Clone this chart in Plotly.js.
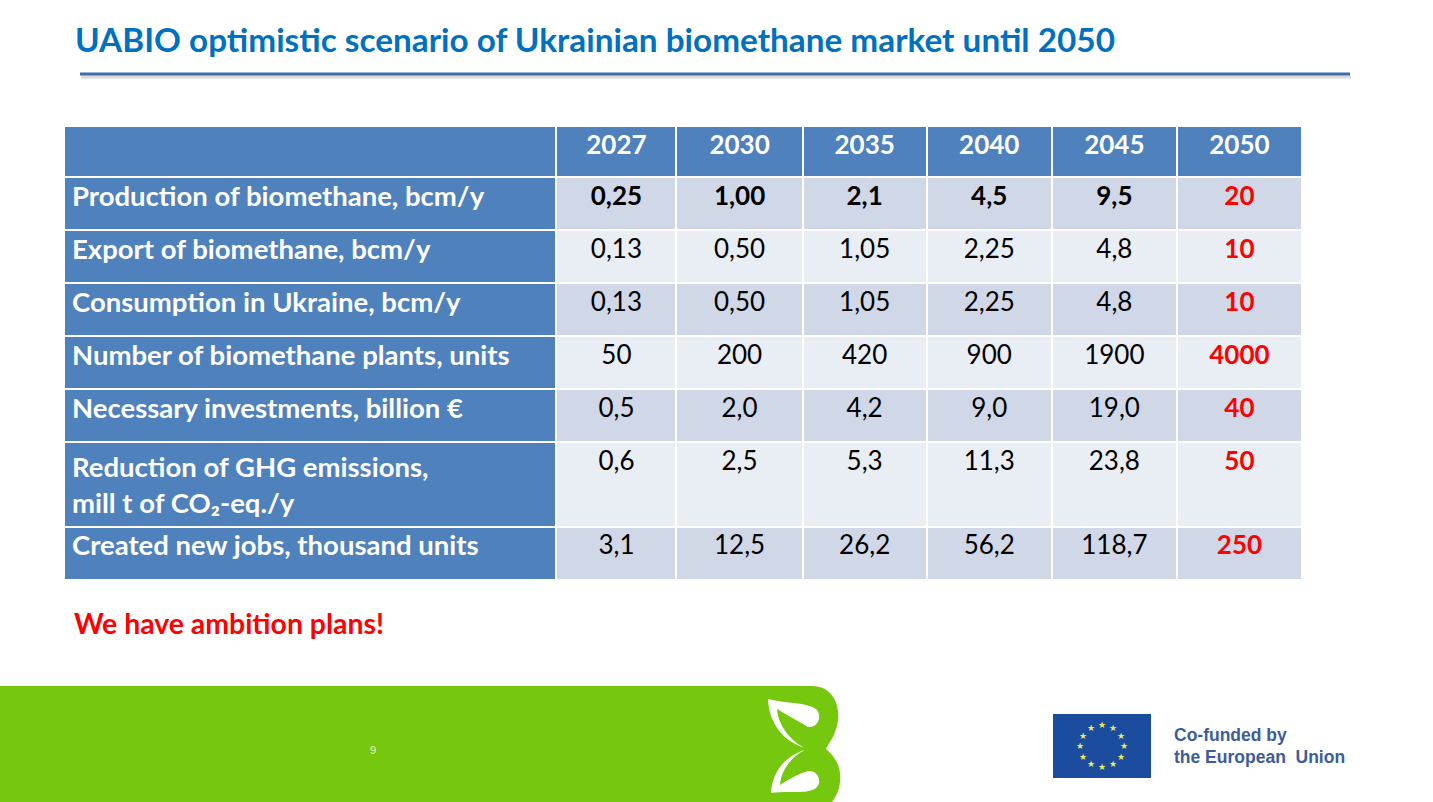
<!DOCTYPE html>
<html>
<head>
<meta charset="utf-8">
<script src="https://cdn.plot.ly/plotly-3.0.1.min.js"></script>
<style>html,body{margin:0;padding:0;background:#fff;}#chart{width:1433px;height:802px;}</style>
</head>
<body>
<div id="chart"></div>
<script>
// ---- data ----
const years = ['2027', '2030', '2035', '2040', '2045', '2050'];
const rowLabels = [
  'Production of biomethane, bcm/y',
  'Export of biomethane, bcm/y',
  'Consumption in Ukraine, bcm/y',
  'Number of biomethane plants, units',
  'Necessary investments, billion €',
  'Reduction of GHG emissions,<br>mill t of CO₂-eq./y',
  'Created new jobs, thousand units'
];
const production   = ['0,25', '1,00', '2,1', '4,5', '9,5', '20'];
const exportBio    = ['0,13', '0,50', '1,05', '2,25', '4,8', '10'];
const consumption  = ['0,13', '0,50', '1,05', '2,25', '4,8', '10'];
const plants       = ['50', '200', '420', '900', '1900', '4000'];
const investments  = ['0,5', '2,0', '4,2', '9,0', '19,0', '40'];
const ghgReduction = ['0,6', '2,5', '5,3', '11,3', '23,8', '50'];
const newJobs      = ['3,1', '12,5', '26,2', '56,2', '118,7', '250'];
const rows = [production, exportBio, consumption, plants, investments, ghgReduction, newJobs];

// ---- helpers (pixel -> paper) ----
const W = 1433, H = 802;
const px = x => x / W;
const py = y => 1 - y / H;
const P = (x, y) => px(x) + ' ' + py(y);

// ---- table construction ----
const headerValues = [''].concat(years);
const cellValues = [rowLabels];
const fontColors = [rowLabels.map(() => '#FFFFFF')];
const fontWeights = [rowLabels.map(() => 'bold')];
const fontSizes = [rowLabels.map(() => 27.5)];
const fillColors = [rowLabels.map(() => '#4F81BD')];
years.forEach((y, ci) => {
  const isLast = ci === years.length - 1;
  cellValues.push(rows.map(r => r[ci]));
  fontColors.push(rows.map(() => isLast ? '#FF0000' : '#000000'));
  fontWeights.push(rows.map((r, ri) => (isLast || ri === 0) ? 'bold' : 'normal'));
  fontSizes.push(rows.map(() => 26));
  fillColors.push(rows.map((r, ri) => ri % 2 === 0 ? '#D0D8E8' : '#E9EDF4'));
});

const table = {
  type: 'table',
  domain: {x: [px(64), px(1302)], y: [py(660), py(126)]},
  columnwidth: [492, 120, 126, 124, 125, 125, 125],
  header: {
    values: headerValues,
    height: 51,
    align: 'center',
    fill: {color: '#4F81BD'},
    line: {color: '#FFFFFF', width: 2},
    font: {family: 'Lato, sans-serif', size: 26, color: '#FFFFFF', weight: 'bold'}
  },
  cells: {
    values: cellValues,
    height: 53,
    align: ['left', 'center', 'center', 'center', 'center', 'center', 'center'],
    fill: {color: fillColors},
    line: {color: '#FFFFFF', width: 2},
    font: {family: 'Lato, sans-serif', size: fontSizes, color: fontColors, weight: fontWeights}
  }
};

// ---- decorations ----
const shapes = [
  // title underline (shadow + line)
  {type: 'line', xref: 'paper', yref: 'paper', x0: px(81), x1: px(1351), y0: py(77), y1: py(77),
   line: {color: '#DADADA', width: 3}},
  {type: 'line', xref: 'paper', yref: 'paper', x0: px(80), x1: px(1350), y0: py(74), y1: py(74),
   line: {color: '#3A6DAA', width: 3}},
  // green footer band with rounded "B" end
  {type: 'path', xref: 'paper', yref: 'paper', fillcolor: '#76C80E', line: {width: 0},
   path: 'M ' + P(0, 686) + ' L ' + P(812, 686) +
         ' C ' + P(832, 686) + ' ' + P(840, 704) + ' ' + P(838, 720) +
         ' C ' + P(836, 736) + ' ' + P(828, 744) + ' ' + P(826, 749) +
         ' C ' + P(834, 756) + ' ' + P(842, 766) + ' ' + P(840, 782) +
         ' C ' + P(839, 792) + ' ' + P(835, 798) + ' ' + P(832, 802) +
         ' L ' + P(0, 802) + ' Z'},
  // upper leaf (crescent with green interior opening to the right)
  {type: 'path', xref: 'paper', yref: 'paper', fillcolor: '#FFFFFF', line: {width: 0},
   path: 'M ' + P(768, 699) +
         ' C ' + P(769, 722) + ' ' + P(782, 741) + ' ' + P(805, 748) +
         ' C ' + P(792, 742) + ' ' + P(778, 726) + ' ' + P(777, 709) +
         ' C ' + P(787, 715) + ' ' + P(800, 722) + ' ' + P(808, 727) +
         ' C ' + P(818, 728) + ' ' + P(823, 716) + ' ' + P(816, 709) +
         ' C ' + P(806, 702) + ' ' + P(788, 704) + ' ' + P(768, 699) + ' Z'},
  // lower leaf
  {type: 'path', xref: 'paper', yref: 'paper', fillcolor: '#FFFFFF', line: {width: 0},
   path: 'M ' + P(771, 793) +
         ' C ' + P(772, 772) + ' ' + P(785, 756) + ' ' + P(805, 750) +
         ' C ' + P(792, 756) + ' ' + P(781, 770) + ' ' + P(780, 785) +
         ' C ' + P(789, 779) + ' ' + P(800, 773) + ' ' + P(808, 771) +
         ' C ' + P(818, 770) + ' ' + P(823, 782) + ' ' + P(816, 788) +
         ' C ' + P(806, 795) + ' ' + P(790, 790) + ' ' + P(771, 793) + ' Z'},
  // EU flag
  {type: 'rect', xref: 'paper', yref: 'paper', x0: px(1053), x1: px(1151), y0: py(778), y1: py(714),
   fillcolor: '#1B4C9E', line: {width: 0}}
];

const annotations = [
  {text: '<b>UABIO optimistic scenario of Ukrainian biomethane market until 2050</b>',
   xref: 'paper', yref: 'paper', x: px(73), y: py(39), xanchor: 'left', yanchor: 'middle', showarrow: false,
   font: {family: 'Lato, sans-serif', size: 33.3, color: '#0070C0'}},
  {text: '<b>We have ambition plans!</b>',
   xref: 'paper', yref: 'paper', x: px(72), y: py(623), xanchor: 'left', yanchor: 'middle', showarrow: false,
   font: {family: 'Lato, sans-serif', size: 28.4, color: '#FF0000'}},
  {text: '9', xref: 'paper', yref: 'paper', x: px(373), y: py(750), xanchor: 'center', yanchor: 'middle',
   showarrow: false, font: {family: 'Liberation Sans, Arial, sans-serif', size: 11, color: '#E8F5D0'}},
  {text: '<b>Co-funded by</b>', xref: 'paper', yref: 'paper', x: px(1172), y: py(735), xanchor: 'left', yanchor: 'middle',
   showarrow: false, font: {family: 'Liberation Sans, Arial, sans-serif', size: 17.5, color: '#3D5D9A'}},
  {text: '<b>the European  Union</b>', xref: 'paper', yref: 'paper', x: px(1172), y: py(757), xanchor: 'left', yanchor: 'middle',
   showarrow: false, font: {family: 'Liberation Sans, Arial, sans-serif', size: 17.5, color: '#3D5D9A'}}
];
// EU stars
for (let k = 0; k < 12; k++) {
  const a = k * Math.PI / 6;
  annotations.push({text: '★', xref: 'paper', yref: 'paper',
    x: px(1102 + 22 * Math.sin(a)), y: py(746 - 21 * Math.cos(a)),
    xanchor: 'center', yanchor: 'middle', showarrow: false,
    font: {family: 'DejaVu Sans, sans-serif', size: 9, color: '#EEE85A'}});
}

const layout = {
  width: W, height: H,
  margin: {l: 0, r: 0, t: 0, b: 0},
  paper_bgcolor: '#FFFFFF',
  plot_bgcolor: '#FFFFFF',
  showlegend: false,
  shapes: shapes,
  annotations: annotations
};

Plotly.newPlot('chart', [table], layout, {displayModeBar: false, staticPlot: true});
</script>
</body>
</html>
